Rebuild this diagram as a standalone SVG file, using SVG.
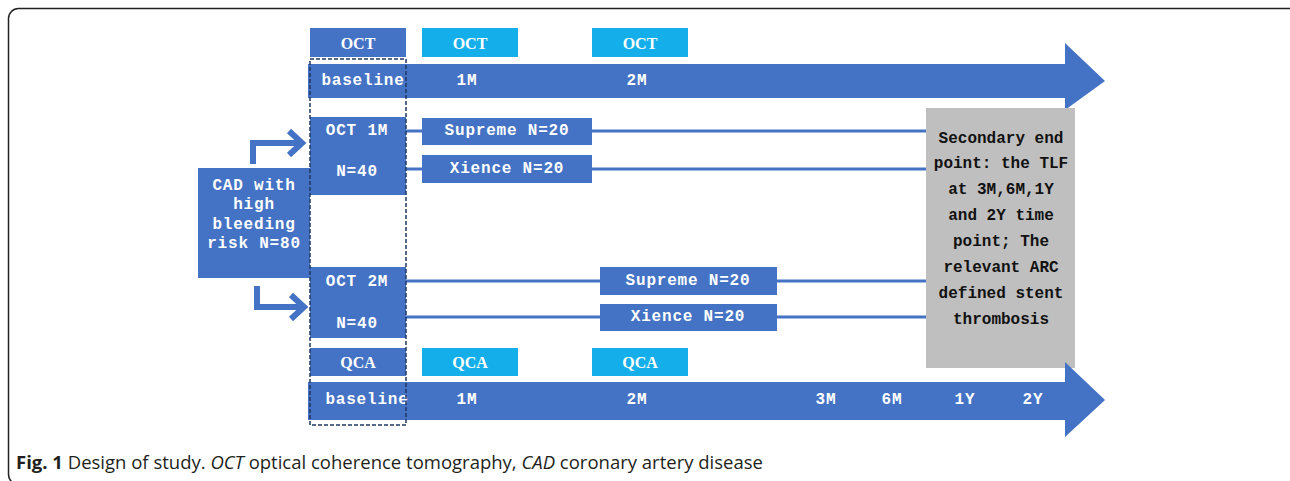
<svg xmlns="http://www.w3.org/2000/svg" width="1290" height="481" viewBox="0 0 1290 481">
<defs>
<style>
.dk{fill:#4472C4}
.lt{fill:#14AEEA}
.gr{fill:#BFBFBF}
.w{fill:#ffffff;font-family:"Liberation Mono",monospace;font-weight:bold;font-size:16px;letter-spacing:0.8px;text-anchor:middle;dominant-baseline:central}
.wl{fill:#ffffff;font-family:"Liberation Serif",serif;font-weight:bold;font-size:16px;text-anchor:middle;dominant-baseline:central}
.b{fill:#111111;font-family:"Liberation Mono",monospace;font-weight:bold;font-size:16px;text-anchor:middle;dominant-baseline:central}
.ln{stroke:#4472C4;stroke-width:3;fill:none}
.cap{font-family:"Open Sans","Liberation Sans",sans-serif;font-size:18.5px;fill:#231F20}
</style>
</defs>
<rect width="1290" height="481" fill="#ffffff"/>
<rect x="8.5" y="8.5" width="1300" height="476" rx="10" fill="none" stroke="#222" stroke-width="1.5"/>

<g id="connectors">
<line class="ln" x1="405" y1="131" x2="422" y2="131"/>
<line class="ln" x1="405" y1="169" x2="422" y2="169"/>
<line class="ln" x1="592" y1="131" x2="926" y2="131"/>
<line class="ln" x1="592" y1="169" x2="926" y2="169"/>
<line class="ln" x1="405" y1="281" x2="600" y2="281"/>
<line class="ln" x1="405" y1="317" x2="600" y2="317"/>
<line class="ln" x1="777" y1="281" x2="926" y2="281"/>
<line class="ln" x1="777" y1="317" x2="926" y2="317"/>
<path d="M253 164 V143 H300" stroke="#4472C4" stroke-width="6" fill="none"/>
<path d="M289 131 L302 143 L289 155" stroke="#4472C4" stroke-width="6" fill="none"/>
<path d="M257 286 V307 H302" stroke="#4472C4" stroke-width="6" fill="none"/>
<path d="M291 295 L304 307 L291 319" stroke="#4472C4" stroke-width="6" fill="none"/>
</g>

<g id="top-timeline">
<path class="dk" d="M308 64 H1065 V43 L1105 81 L1065 110 V98 H308 Z"/>
<text class="w" x="363" y="81">baseline</text>
<text class="w" x="467" y="81">1M</text>
<text class="w" x="637" y="81">2M</text>
</g>

<g id="oct-headers">
<rect class="dk" x="310" y="28" width="96" height="29"/>
<text class="wl" x="358" y="43">OCT</text>
<rect class="lt" x="422" y="28" width="96" height="29"/>
<text class="wl" x="470" y="43">OCT</text>
<rect class="lt" x="592" y="28" width="96" height="29"/>
<text class="wl" x="640" y="43">OCT</text>
</g>

<g id="cad">
<rect class="dk" x="198" y="168" width="112" height="110"/>
<text class="w" x="254" y="186">CAD with</text>
<text class="w" x="254" y="205">high</text>
<text class="w" x="254" y="225">bleeding</text>
<text class="w" x="254" y="244">risk N=80</text>
</g>

<g id="oct1m">
<rect class="dk" x="310" y="117" width="96" height="78"/>
<text class="w" x="357" y="131">OCT 1M</text>
<text class="w" x="357" y="172">N=40</text>
</g>

<g id="supreme1">
<rect class="dk" x="422" y="118" width="170" height="27"/>
<text class="w" x="507" y="131">Supreme N=20</text>
</g>
<g id="xience1">
<rect class="dk" x="422" y="155" width="170" height="28"/>
<text class="w" x="507" y="169">Xience N=20</text>
</g>

<g id="oct2m">
<rect class="dk" x="310" y="267" width="96" height="71"/>
<text class="w" x="357" y="282">OCT 2M</text>
<text class="w" x="357" y="324">N=40</text>
</g>

<g id="supreme2">
<rect class="dk" x="600" y="267" width="177" height="28"/>
<text class="w" x="688" y="281">Supreme N=20</text>
</g>
<g id="xience2">
<rect class="dk" x="600" y="304" width="177" height="27"/>
<text class="w" x="688" y="317">Xience N=20</text>
</g>

<g id="endpoint">
<rect class="gr" x="926" y="108" width="149" height="260"/>
<text class="b" x="1001" y="139">Secondary end</text>
<text class="b" x="1001" y="164">point: the TLF</text>
<text class="b" x="1001" y="190">at 3M,6M,1Y</text>
<text class="b" x="1001" y="216">and 2Y time</text>
<text class="b" x="1001" y="242">point; The</text>
<text class="b" x="1001" y="268">relevant ARC</text>
<text class="b" x="1001" y="294">defined stent</text>
<text class="b" x="1001" y="320">thrombosis</text>
</g>

<g id="qca-headers">
<rect class="dk" x="310" y="348" width="96" height="28"/>
<text class="wl" x="358" y="362">QCA</text>
<rect class="lt" x="422" y="348" width="96" height="28"/>
<text class="wl" x="470" y="362">QCA</text>
<rect class="lt" x="592" y="348" width="96" height="28"/>
<text class="wl" x="640" y="362">QCA</text>
</g>

<g id="bottom-timeline">
<path class="dk" d="M308 382 H1065 V362 L1105 400 L1065 437 V420 H308 Z"/>
<text class="w" x="367" y="400">baseline</text>
<text class="w" x="467" y="400">1M</text>
<text class="w" x="637" y="400">2M</text>
<text class="w" x="826" y="400">3M</text>
<text class="w" x="892" y="400">6M</text>
<text class="w" x="965" y="400">1Y</text>
<text class="w" x="1033" y="400">2Y</text>
</g>

<g id="baseline-frame">
<rect x="310" y="59" width="96" height="366" fill="none" stroke="#1F3864" stroke-width="1.5" stroke-dasharray="4 2"/>
</g>

<text class="cap" x="16" y="469"><tspan font-weight="bold">Fig. 1</tspan> Design of study. <tspan font-style="italic">OCT</tspan> optical coherence tomography, <tspan font-style="italic">CAD</tspan> coronary artery disease</text>
</svg>
